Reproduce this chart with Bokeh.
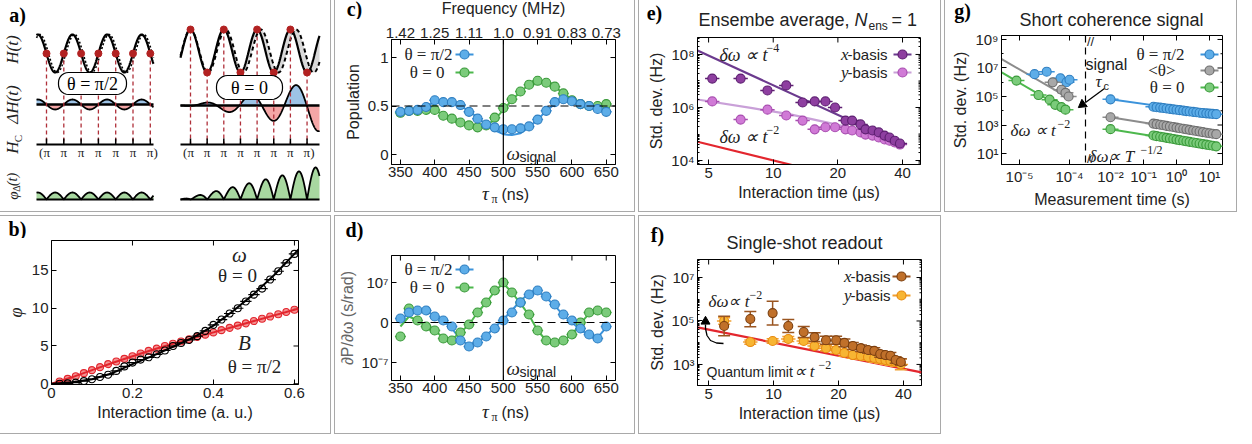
import numpy as np
from bokeh.plotting import figure
from bokeh.models import Range1d, LinearAxis, FixedTicker, Label, Span, BasicTickFormatter
from bokeh.layouts import row, column
from bokeh.embed import file_html
from bokeh.resources import INLINE

# ---------------- data: (b) accumulated phase ----------------
b_time = [0.02, 0.04, 0.06, 0.08, 0.10, 0.12, 0.14, 0.16, 0.18, 0.20, 0.22, 0.24, 0.26, 0.28, 0.30,
          0.32, 0.34, 0.36, 0.38, 0.40, 0.42, 0.44, 0.46, 0.48, 0.50, 0.52, 0.54, 0.56, 0.58, 0.60]
b_phase_omega = [0.0, 0.05, 0.15, 0.35, 0.6, 0.9, 1.2, 1.7, 2.3, 2.8, 3.2, 3.5, 3.9, 4.4, 5.0,
                 5.4, 5.8, 6.3, 7.0, 7.8, 8.5, 9.3, 10.0, 10.9, 11.8, 12.6, 13.8, 14.9, 16.0, 17.2]
b_phase_B = [0.3, 0.65, 1.0, 1.4, 1.8, 2.2, 2.6, 2.95, 3.3, 3.65, 4.0, 4.35, 4.65, 5.0, 5.3,
             5.6, 5.9, 6.2, 6.5, 6.8, 7.1, 7.4, 7.7, 8.0, 8.3, 8.6, 8.9, 9.2, 9.5, 9.8]
b_fit_time = [0.0, 0.05, 0.10, 0.15, 0.20, 0.25, 0.30, 0.35, 0.40, 0.45, 0.50, 0.55, 0.60, 0.61]
b_fit_omega = [0.0, 0.2, 0.6, 1.4, 2.6, 3.7, 4.9, 6.1, 7.7, 9.7, 11.9, 14.4, 17.2, 17.8]
b_fit_B = [0.0, 0.85, 1.8, 2.75, 3.65, 4.5, 5.3, 6.05, 6.8, 7.55, 8.3, 9.05, 9.8, 9.95]

# ---------------- data: (c) population ----------------
c_tau = [350, 362.5, 375, 387.5, 400, 412.5, 425, 437.5, 450, 462.5, 475, 487.5, 500,
         512.5, 525, 537.5, 550, 562.5, 575, 587.5, 600, 612.5, 625, 637.5, 650]
c_pop_pi2 = [0.44, 0.45, 0.46, 0.49, 0.56, 0.54, 0.54, 0.51, 0.44, 0.37, 0.31, 0.28, 0.26,
             0.26, 0.27, 0.29, 0.36, 0.45, 0.54, 0.57, 0.55, 0.52, 0.50, 0.47, 0.44]
c_pop_0 = [0.43, 0.45, 0.45, 0.46, 0.46, 0.40, 0.37, 0.33, 0.30, 0.28, 0.30, 0.38, 0.48,
           0.57, 0.65, 0.72, 0.76, 0.74, 0.70, 0.63, 0.56, 0.52, 0.50, 0.50, 0.52]
c_fit_pi2 = [0.45, 0.46, 0.48, 0.51, 0.53, 0.54, 0.53, 0.50, 0.45, 0.38, 0.31, 0.25, 0.21,
             0.20, 0.22, 0.28, 0.36, 0.45, 0.52, 0.56, 0.56, 0.53, 0.50, 0.47, 0.45]
c_fit_0 = [0.44, 0.45, 0.46, 0.46, 0.45, 0.42, 0.38, 0.34, 0.31, 0.29, 0.30, 0.36, 0.46,
           0.56, 0.65, 0.72, 0.75, 0.74, 0.70, 0.63, 0.57, 0.52, 0.50, 0.50, 0.51]
tau_ticks = [350, 400, 450, 500, 550, 600, 650]
freq_labels = ["1.42", "1.25", "1.11", "1.0", "0.91", "0.83", "0.73"]

# ---------------- data: (d) slope dP/dw ----------------
d_tau = [350, 362.5, 375, 387.5, 400, 412.5, 425, 437.5, 450, 462.5, 475, 487.5, 500,
         512.5, 525, 537.5, 550, 562.5, 575, 587.5, 600, 612.5, 625, 637.5, 650]
d_slope_pi2 = [0.1, 0.25, 0.3, 0.3, 0.15, 0.05, -0.1, -0.45, -0.6, -0.5, -0.35, -0.15, 0.05,
               0.25, 0.5, 0.7, 0.8, 0.65, 0.45, 0.2, 0.05, -0.15, -0.3, -0.4, -0.1]
d_slope_0 = [-0.35, 0.35, 0.05, -0.1, -0.2, -0.4, -0.45, -0.25, -0.05, 0.25, 0.5, 0.8, 1.0,
             0.75, 0.5, 0.2, -0.2, -0.45, -0.5, -0.45, -0.3, 0.0, 0.25, 0.3, 0.25]
d_fit_pi2 = [0.1, 0.2, 0.28, 0.28, 0.18, 0.05, -0.15, -0.42, -0.58, -0.5, -0.33, -0.12, 0.08,
             0.3, 0.55, 0.72, 0.78, 0.62, 0.42, 0.18, 0.0, -0.18, -0.32, -0.38, -0.12]
d_fit_0 = [-0.1, 0.15, 0.05, -0.1, -0.2, -0.38, -0.42, -0.25, -0.05, 0.25, 0.5, 0.78, 0.98,
           0.75, 0.48, 0.18, -0.2, -0.45, -0.5, -0.45, -0.3, -0.02, 0.22, 0.28, 0.25]

# ---------------- data: (e) ensemble average ----------------
e_time = [5.2, 7.05, 9.4, 11.5, 13.7, 15.6, 17.5, 19.4, 21.7, 23.3, 25.5, 26.9, 29.0, 31.0,
          33.0, 34.8, 36.8, 38.9]
e_std_x = [1.23e7, 1.23e7, 4.4e6, 6.8e6, 1.55e6, 1.7e6, 1.7e6, 1.0e6, 3.2e5, 3.2e5, 2.3e5,
           1.5e5, 1.35e5, 1.15e5, 8.7e4, 7.4e4, 5.6e4, 4.4e4]
e_std_y = [1.7e6, 3.5e5, 8.3e5, 5.0e5, 3.2e5, 1.5e5, 1.8e5, 1.8e5, 1.5e5, 1.35e5, 1.15e5,
           9.5e4, 8.7e4, 7.4e4, 6.2e4, 5.6e4, 4.8e4, 4.0e4]
e_fit_time_x = [4.44, 40.0]
e_fit_x = [1.4e8, 4.0e4]
e_fit_time_y = [4.44, 8.0, 12.0, 20.0, 30.0, 40.0]
e_fit_y = [2.0e6, 9.5e5, 5.5e5, 2.2e5, 9.0e4, 4.5e4]
ql_time = [4.44, 48.5]
ql_std = [5.1e4, 4.3e2]

# ---------------- data: (f) single-shot readout ----------------
f_time = [5.9, 7.8, 9.9, 11.7, 13.8, 15.5, 17.5, 19.5, 21.3, 23.3, 25.4, 27.4, 29.3, 31.2,
          33.0, 34.8, 36.8, 38.9]
f_std_x = [5.9e4, 1.23e5, 2.3e5, 5.9e4, 3.1e4, 1.8e4, 1.3e4, 1.3e4, 9.8e3, 7.1e3, 5.6e3,
           4.6e3, 4.2e3, 3.0e3, 2.7e3, 2.5e3, 1.6e3, 1.3e3]
f_err_x = [0.45, 0.35, 0.55, 0.3, 0.25, 0.2, 0.18, 0.18, 0.18, 0.16, 0.15, 0.15, 0.15, 0.15,
           0.15, 0.15, 0.15, 0.15]
f_std_y = [1.0e5, 1.07e4, 1.2e4, 1.48e4, 1.2e4, 7.1e3, 5.6e3, 4.6e3, 3.4e3, 2.7e3, 2.45e3,
           2.2e3, 2.0e3, 1.8e3, 1.6e3, 1.45e3, 1.3e3, 1.0e3]
f_err_y = [0.15, 0.1, 0.1, 0.12, 0.12, 0.12, 0.12, 0.15, 0.15, 0.15, 0.15, 0.15, 0.2, 0.2,
           0.2, 0.2, 0.2, 0.25]

# ---------------- data: (g) short coherence signal ----------------
g_lt_pi2 = [2.0e-5, 3.5e-5, 6.6e-5, 8.7e-5, 1.0e-4]
g_lv_pi2 = [3.7e6, 5.5e6, 1.9e6, 1.0e6, 1.5e6]
g_lt_avg = [4.6e-5, 6.9e-5, 8.3e-5, 9.6e-5]
g_lv_avg = [9.8e5, 3.0e5, 1.8e5, 1.0e5]
g_lt_0 = [8.7e-6, 2.4e-5, 4.0e-5, 5.2e-5, 6.9e-5, 8.3e-5]
g_lv_0 = [1.3e6, 1.26e5, 6.0e4, 2.6e4, 1.8e4, 1.2e4]
g_lfit_t = [4.4e-6, 1.0e-4]
g_lfit_avg = [4.2e7, 7.4e4]
g_lfit_0 = [4.9e6, 7.9e3]
g_T = [0.01, 0.2, 0.25, 0.32, 0.4, 0.5, 0.63, 0.8, 1.0, 1.25, 1.6, 2.0, 2.5, 3.2, 4.0,
       5.0, 6.3, 8.0, 10.0, 12.5, 16.0]
g_rv_pi2 = [6.3e4, 1.9e4, 1.78e4, 1.66e4, 1.55e4, 1.45e4, 1.35e4, 1.26e4, 1.17e4, 1.1e4,
            1.02e4, 9.5e3, 8.9e3, 8.3e3, 7.8e3, 7.2e3, 6.9e3, 6.6e3, 6.3e3, 6.0e3, 5.8e3]
g_rv_avg = [3.5e3, 1.26e3, 1.15e3, 1.05e3, 955, 870, 795, 725, 660, 600, 550, 500, 457,
            417, 380, 347, 316, 288, 263, 245, 229]
g_rv_0 = [513, 186, 166, 151, 138, 126, 115, 105, 95, 87, 79, 72, 66, 60, 55, 50, 46,
          42, 38, 35, 32]
g_rfit_T = [0.01, 16.0]
g_rfit_pi2 = [6.3e4, 5.8e3]
g_rfit_avg = [3.5e3, 229]
g_rfit_0 = [513, 32]
g_tick_labels = ["10\u207b\u2075", "10\u207b\u2074", "10\u207b\u00b2", "10\u207b\u00b9",
                 "10\u2070", "10\u00b9"]
g_tick_times = [1e-5, 1e-4, 1e-2, 1e-1, 1e0, 1e1]

# ---------------- styling ----------------
SANS = "Liberation Sans"
SERIF = "Liberation Serif"
INK = "#222222"
OUTLINE = {"outline": "1px solid #a9a9a9", "outline-offset": "0px"}
BLUE_F, BLUE_E, BLUE_L = "#5DADE8", "#2F7FC1", "#3B93DB"
GREEN_F, GREEN_E, GREEN_L = "#7BCB7B", "#3A9A3A", "#4DB84D"
GRAY_F, GRAY_E, GRAY_L = "#A8A8A8", "#6E6E6E", "#8C8C8C"
PUR_F, PUR_E, PUR_L = "#8E3FA0", "#5E1F72", "#6B3A8E"
LPUR_F, LPUR_E, LPUR_L = "#D07AD6", "#A84DB0", "#C9A0D8"
BR_F, BR_E, BR_L = "#C0702A", "#7A3F10", "#9A5520"
OR_F, OR_E, OR_L = "#F7B533", "#E88A10", "#F0A030"
RED = "#E3262E"


def style_axis(ax, ticks, labels=None, minor=(), lsize="15px"):
    ax.ticker = FixedTicker(ticks=list(ticks), minor_ticks=list(minor))
    ax.axis_line_color = "black"
    ax.major_tick_in = 5
    ax.major_tick_out = 0
    ax.minor_tick_in = 2
    ax.minor_tick_out = 0
    ax.major_tick_line_color = "black"
    ax.minor_tick_line_color = "black"
    ax.major_label_text_font = SANS
    ax.major_label_text_font_size = lsize
    ax.major_label_text_color = INK
    ax.major_label_standoff = 3
    ax.axis_label_text_font = SANS
    ax.axis_label_text_font_size = "16px"
    ax.axis_label_text_font_style = "normal"
    ax.axis_label_text_color = INK
    ax.axis_label_standoff = 3
    if labels is not None:
        ax.major_label_overrides = {t: l for t, l in zip(ticks, labels)}


def txt(p, x, y, s, size=15, font=SANS, style="normal", align="left", base="middle",
        color=INK, angle=0.0):
    p.add_layout(Label(x=x, y=y, text=s, text_font=font, text_font_size=f"{size}px",
                       text_font_style=style, text_align=align, text_baseline=base,
                       text_color=color, angle=angle))


class Sheet:
    """Axis-free figure whose data coordinates are page pixels (schematic / header / footer text)."""

    def __init__(self, x0, y0, x1, y1):
        w, h = x1 - x0, y1 - y0
        p = figure(width=w, height=h, frame_width=w, frame_height=h,
                   x_range=Range1d(x0, x1), y_range=Range1d(y1, y0),
                   x_axis_location=None, y_axis_location=None,
                   output_backend="svg", toolbar_location=None,
                   min_border=0, min_border_left=0, min_border_right=0,
                   min_border_top=0, min_border_bottom=0,
                   background_fill_color="white", border_fill_color="white")
        p.title.visible = False
        p.grid.visible = False
        p.outline_line_color = None
        self.p = p

    def text(self, X, Y, s, **kw):
        txt(self.p, X, Y, s, **kw)

    def letter(self, X, Y, s):
        txt(self.p, X, Y, s, size=20, font=SERIF, style="bold", align="center", color="black")


class Panel:
    def __init__(self, box, frame, xr, yr, xlog=False, ylog=False):
        bx0, by0, bx1, by1 = box
        w, h = bx1 - bx0, by1 - by0
        cx, cy = bx0, by0
        self.frame, self.xr, self.yr, self.xlog, self.ylog = frame, xr, yr, xlog, ylog
        fl, ft, fr, fb = frame
        p = figure(width=w, height=h, x_range=Range1d(*xr), y_range=Range1d(*yr),
                   output_backend="svg", toolbar_location=None,
                   x_axis_type="log" if xlog else "linear",
                   y_axis_type="log" if ylog else "linear",
                   min_border_left=fl - cx, min_border_top=ft - cy,
                   min_border_right=cx + w - fr, min_border_bottom=cy + h - fb,
                   background_fill_color="white", border_fill_color="white")
        p.title.visible = False
        p.grid.visible = False
        p.outline_line_color = "black"
        p.outline_line_width = 1
        self.p = p

    def d(self, X, Y):
        fl, ft, fr, fb = self.frame
        fx = (X - fl) / (fr - fl)
        fy = (fb - Y) / (fb - ft)
        x0, x1 = self.xr
        y0, y1 = self.yr
        if self.xlog:
            x = 10 ** (np.log10(x0) + fx * (np.log10(x1) - np.log10(x0)))
        else:
            x = x0 + fx * (x1 - x0)
        if self.ylog:
            y = 10 ** (np.log10(y0) + fy * (np.log10(y1) - np.log10(y0)))
        else:
            y = y0 + fy * (y1 - y0)
        return float(x), float(y)

    def text(self, X, Y, s, **kw):
        x, y = self.d(X, Y)
        txt(self.p, x, y, s, **kw)

    def axes(self, xt, yt, xl=None, yl=None, xminor=(), yminor=(), top=True, right=True):
        p = self.p
        self.xax = p.below[0]
        self.yax = p.left[0]
        style_axis(self.xax, xt, xl, xminor)
        style_axis(self.yax, yt, yl, yminor)
        if self.ylog:
            self.yax.formatter = BasicTickFormatter()
        if self.xlog:
            self.xax.formatter = BasicTickFormatter()
        fl, ft, fr, fb = self.frame
        if top:
            _, y0 = self.d(fl, ft)
            _, y1 = self.d(fl, ft + 5)
            n = len(xt)
            p.segment(x0=list(xt), y0=[y0] * n, x1=list(xt), y1=[y1] * n, line_color="black", line_width=1)
        if right:
            x0, _ = self.d(fr, ft)
            x1, _ = self.d(fr - 5, ft)
            x2, _ = self.d(fr - 2, ft)
            n = len(yt)
            p.segment(x0=[x0] * n, y0=list(yt), x1=[x1] * n, y1=list(yt), line_color="black", line_width=1)
            m = len(yminor)
            if m:
                p.segment(x0=[x0] * m, y0=list(yminor), x1=[x2] * m, y1=list(yminor),
                          line_color="black", line_width=1)

    def legend_mark(self, X, Y, fill, edge, line, half=9, size=9):
        x0, y = self.d(X - half, Y)
        x1, _ = self.d(X + half, Y)
        xc, _ = self.d(X, Y)
        self.p.segment(x0=[x0], y0=[y], x1=[x1], y1=[y], line_color=line, line_width=2)
        self.p.scatter([xc], [y], size=size, fill_color=fill, line_color=edge, line_width=1.2)

    def polyline(self, pts, **kw):
        xs, ys = zip(*[self.d(X, Y) for X, Y in pts])
        self.p.line(list(xs), list(ys), **kw)

    def head(self, X, Y, angle):
        x, y = self.d(X, Y)
        self.p.scatter([x], [y], marker="triangle", size=9, angle=angle,
                       fill_color="black", line_color="black")


def stack(*figs):
    # each figure in its own row so that Bokeh does not align frames between them
    return column(*[row(f) for f in figs], spacing=0, styles=OUTLINE)


def hbars(p, xs, ys, half, color, log=False, width=1.5):
    xs = np.asarray(xs, float)
    ys = np.asarray(ys, float)
    x0, x1 = (xs / half, xs * half) if log else (xs - half, xs + half)
    p.segment(x0=x0, y0=ys, x1=x1, y1=ys, line_color=color, line_width=width)


def vbars(p, xs, ys, dex, color, cap=1.066, width=1.5):
    xs = np.asarray(xs, float)
    ys = np.asarray(ys, float)
    e = 10 ** np.asarray(dex, float)
    lo, hi = ys / e, ys * e
    p.segment(x0=xs, y0=lo, x1=xs, y1=hi, line_color=color, line_width=width)
    p.segment(x0=xs / cap, y0=lo, x1=xs * cap, y1=lo, line_color=color, line_width=width)
    p.segment(x0=xs / cap, y0=hi, x1=xs * cap, y1=hi, line_color=color, line_width=width)


def dots(p, xs, ys, fill, edge, size=9, alpha=1.0):
    p.scatter(xs, ys, size=size, fill_color=fill, line_color=edge, line_width=1.1, fill_alpha=alpha)


# ======================= (a) schematic =======================
A = Sheet(3, 3, 338, 219)
pa = A.p
TAU = 2 * np.pi
xl = np.linspace(44, 161, 500)
lp = 54.0 + 17.3 * np.arange(7)
yH = 61 - 19 * np.sin(TAU * (xl - 71.3) / 34.6)
yH2 = 61 - 19 * np.sin(TAU * (xl - 73.3) / 34.6)
pa.line(xl, yH2, line_color="black", line_width=1.6, line_dash="2 2")
pa.line(xl, yH, line_color="black", line_width=2.2)
yd = 112 + 5 * np.sin(TAU * (xl - 54) / 34.6)
pa.varea(x=xl, y1=np.full_like(xl, 112), y2=np.minimum(yd, 112), fill_color="#9DC3E6")
pa.varea(x=xl, y1=np.full_like(xl, 112), y2=np.maximum(yd, 112), fill_color="#F4A6A6")
pa.line(xl, yd, line_color="black", line_width=1.8)
pa.line([44, 161], [112, 112], line_color="black", line_width=2.6)
yphi = 207 - 7 * np.abs(np.sin(np.pi * (xl - 54) / 17.3))
pa.varea(x=xl, y1=np.full_like(xl, 207), y2=yphi, fill_color="#A8D8A0")
pa.line(xl, yphi, line_color="black", line_width=1.8)
pa.line([44, 161], [207, 207], line_color="black", line_width=2.2)
pa.segment(x0=lp, y0=np.full(7, 61.0), x1=lp, y1=np.full(7, 152.0), line_color="#B0303A",
           line_width=1.3, line_dash="4 3")
pa.scatter(lp, np.full(7, 61.0), size=7, fill_color="#B22222", line_color="#B22222")
pa.line([44, 161], [152, 152], line_color="black", line_width=2)
pa.segment(x0=lp, y0=np.full(7, 146.0), x1=lp, y1=np.full(7, 152.0), line_color="black", line_width=1.5)
for i, xx in enumerate(lp):
    s = "(\u03c0" if i == 0 else ("\u03c0)" if i == len(lp) - 1 else "\u03c0")
    A.text(xx - (2 if i == 0 else 0) + (2 if i == len(lp) - 1 else 0), 160, s, size=13, font=SERIF, align="center")

xr_ = np.linspace(188, 327, 500)
rp = 198.0 + 16.65 * np.arange(8)
yS = 58.5 - 21.5 * np.cos(TAU * (xr_ - 198) / 33.3)
yD = 58.5 - 21.5 * np.cos(TAU * (xr_ - 198) / 35.2)
pa.varea(x=xr_, y1=yS, y2=yD, fill_color="#D9D9D9")
pa.line(xr_, yD, line_color="black", line_width=2.0, line_dash="4 3")
pa.line(xr_, yS, line_color="black", line_width=2.2)
amp = 26 * ((xr_ - 188) / 139) ** 1.3
yd2 = 113 - amp * np.cos(TAU * (xr_ - 303) / 45)
pa.varea(x=xr_, y1=np.full_like(xr_, 113), y2=np.minimum(yd2, 113), fill_color="#9DC3E6")
pa.varea(x=xr_, y1=np.full_like(xr_, 113), y2=np.maximum(yd2, 113), fill_color="#F4A6A6")
pa.line(xr_, yd2, line_color="black", line_width=1.8)
pa.line([188, 327], [113, 113], line_color="black", line_width=2.6)
hm = 33 * (xr_ - 188) / 139
yphi2 = 207 - hm * np.abs(np.sin(np.pi * (xr_ - 198) / 16.65))
pa.varea(x=xr_, y1=np.full_like(xr_, 207), y2=yphi2, fill_color="#A8D8A0")
pa.line(xr_, yphi2, line_color="black", line_width=1.8)
pa.line([188, 327], [207, 207], line_color="black", line_width=2.2)
ry = 58.5 - 21.5 * np.cos(TAU * (rp - 198) / 33.3)
pa.segment(x0=rp, y0=ry, x1=rp, y1=np.full(8, 152.0), line_color="#B0303A", line_width=1.3,
           line_dash="4 3")
pa.scatter(rp, ry, size=7, fill_color="#B22222", line_color="#B22222")
pa.line([188, 327], [152, 152], line_color="black", line_width=2)
pa.segment(x0=rp, y0=np.full(8, 146.0), x1=rp, y1=np.full(8, 152.0), line_color="black", line_width=1.5)
for i, xx in enumerate(rp):
    s = "(\u03c0" if i == 0 else ("\u03c0)" if i == len(rp) - 1 else "\u03c0")
    A.text(xx - (2 if i == 0 else 0) + (2 if i == len(rp) - 1 else 0), 160, s, size=13, font=SERIF, align="center")


def rounded_box(p, cx, cy, w, h, r):
    t = np.linspace(0, np.pi / 2, 8)
    xs, ys = [], []
    for (ox, oy, a0) in [(cx + w / 2 - r, cy - h / 2 + r, -np.pi / 2), (cx + w / 2 - r, cy + h / 2 - r, 0.0),
                         (cx - w / 2 + r, cy + h / 2 - r, np.pi / 2), (cx - w / 2 + r, cy - h / 2 + r, np.pi)]:
        xs += list(ox + r * np.cos(a0 + t))
        ys += list(oy + r * np.sin(a0 + t))
    p.patch(xs, ys, fill_color="white", line_color="black", line_width=1.2)


rounded_box(pa, 100, 91, 68, 22, 10)
rounded_box(pa, 257, 95, 66, 24, 11)
A.text(100, 91, "\u03b8 = \u03c0/2", size=18, font=SERIF, align="center", color="black")
A.text(257, 95, "\u03b8 = 0", size=18, font=SERIF, align="center", color="black")
A.letter(25, 22, "a)")
R90 = np.pi / 2
A.text(20, 57, "H(t)", size=17, font=SERIF, style="italic", align="center", angle=R90)
A.text(20, 112, "\u0394H(t)", size=17, font=SERIF, style="italic", align="center", angle=R90)
A.text(20, 155, "H", size=17, font=SERIF, style="italic", align="center", angle=R90)
A.text(25, 146, "C", size=11, font=SERIF, align="center", angle=R90)
A.text(20, 203, "\u03c6", size=15, font=SERIF, style="italic", align="center", angle=R90)
A.text(24, 196, "\u0394", size=10, font=SERIF, align="center", angle=R90)
A.text(20, 187, "(t)", size=14, font=SERIF, style="italic", align="center", angle=R90)
panel_a = stack(A.p)

# ======================= (b) phase =======================
Bh = Sheet(3, 224, 338, 246)
Bh.letter(25, 236, "b)")
B = Panel((3, 246, 338, 441), frame=(59, 248, 306, 392), xr=(0, 0.61), yr=(-0.1, 18.97))
pb = B.p
B.axes([0, 0.2, 0.4, 0.6], [0, 5, 10, 15], xl=["0", "0.2", "0.4", "0.6"], yl=["0", "5", "10", "15"])
B.xax.axis_label = "Interaction time (a. u.)"
B.yax.axis_label = "\u03c6"
B.yax.axis_label_text_font = SERIF
B.yax.axis_label_text_font_style = "italic"
B.yax.axis_label_text_font_size = "18px"
dots(pb, b_time, b_phase_B, "#F28080", RED, size=7, alpha=0.85)
pb.line(b_fit_time, b_fit_B, line_color=RED, line_width=2)
hbars(pb, b_time, b_phase_omega, 0.014, "black", width=1.2)
pb.scatter(b_time, b_phase_omega, size=7, fill_color=None, line_color="black", line_width=1.1)
pb.line(b_fit_time, b_fit_omega, line_color="black", line_width=2)
B.text(247, 262, "\u03c9", size=21, font=SERIF, style="italic", align="center")
B.text(245, 283, "\u03b8 = 0", size=19, font=SERIF, align="center")
B.text(252, 350, "B", size=21, font=SERIF, style="italic", align="center")
B.text(262, 374, "\u03b8 = \u03c0/2", size=19, font=SERIF, align="center")
panel_b = stack(Bh.p, B.p)

# ======================= (c) population =======================
Ch = Sheet(343, 3, 642, 27)
Ch.letter(362, 16, "c)")
Ch.text(511, 16, "Frequency (MHz)", size=16, align="center")
C = Panel((343, 27, 642, 191), frame=(399, 47, 623, 172), xr=(337, 663.5), yr=(-0.103, 1.186))
pc = C.p
C.axes(tau_ticks, [0, 0.5, 1], yl=["0", "0.5", "1"], top=False)
C.xax.major_label_standoff = 2
C.yax.axis_label = "Population"
topax = LinearAxis()
style_axis(topax, tau_ticks, freq_labels)
topax.major_label_standoff = 2
pc.add_layout(topax, "above")
pc.add_layout(Span(location=0.5, dimension="width", line_color="black", line_dash="8 5", line_width=1.2))
pc.add_layout(Span(location=500, dimension="height", line_color="black", line_width=1.2))
pc.line(c_tau, c_fit_pi2, line_color=BLUE_L, line_width=2)
pc.line(c_tau, c_fit_0, line_color=GREEN_L, line_width=2)
hbars(pc, c_tau, c_pop_0, 8, GREEN_L)
dots(pc, c_tau, c_pop_0, GREEN_F, GREEN_E)
hbars(pc, c_tau, c_pop_pi2, 8, BLUE_L)
dots(pc, c_tau, c_pop_pi2, BLUE_F, BLUE_E)
C.text(460, 62, "\u03b8 = \u03c0/2", size=17, font=SERIF, align="right")
C.text(452, 80, "\u03b8 = 0", size=17, font=SERIF, align="right")
C.legend_mark(472, 62, BLUE_F, BLUE_E, BLUE_L)
C.legend_mark(472, 80, GREEN_F, GREEN_E, GREEN_L)
C.text(514, 161, "\u03c9", size=19, font=SERIF, style="italic")
C.text(527, 164, "signal", size=14)
Cf = Sheet(343, 191, 642, 219)
Cf.text(493, 201, "\u03c4", size=19, font=SERIF, style="italic", align="center")
Cf.text(502, 206, "\u03c0", size=12, font=SERIF, align="center")
Cf.text(509, 202, "(ns)", size=16)
panel_c = stack(Ch.p, C.p, Cf.p)

# ======================= (d) slope =======================
Dh = Sheet(343, 224, 642, 250)
Dh.letter(362, 237, "d)")
D = Panel((343, 250, 642, 408), frame=(399, 263, 623, 388), xr=(337, 663.5), yr=(-1.45, 1.675))
pdd = D.p
D.axes(tau_ticks, [-1, 0, 1], yl=["10\u207b\u2077", "0", "10\u2077"])
D.xax.major_label_standoff = 2
D.yax.axis_label = "\u2202P/\u2202\u03c9 (s/rad)"
D.yax.axis_label_text_color = "#666666"
D.yax.axis_label_standoff = 2
pdd.add_layout(Span(location=0, dimension="width", line_color="black", line_dash="8 5", line_width=1.2))
pdd.add_layout(Span(location=500, dimension="height", line_color="black", line_width=1.2))
pdd.line(d_tau, d_fit_pi2, line_color=BLUE_L, line_width=2)
pdd.line(d_tau, d_fit_0, line_color=GREEN_L, line_width=2)
hbars(pdd, d_tau, d_slope_0, 8, GREEN_L)
dots(pdd, d_tau, d_slope_0, GREEN_F, GREEN_E)
hbars(pdd, d_tau, d_slope_pi2, 8, BLUE_L)
dots(pdd, d_tau, d_slope_pi2, BLUE_F, BLUE_E)
D.text(460, 277, "\u03b8 = \u03c0/2", size=17, font=SERIF, align="right")
D.text(452, 295, "\u03b8 = 0", size=17, font=SERIF, align="right")
D.legend_mark(472, 277, BLUE_F, BLUE_E, BLUE_L)
D.legend_mark(472, 295, GREEN_F, GREEN_E, GREEN_L)
D.text(514, 376, "\u03c9", size=19, font=SERIF, style="italic")
D.text(527, 379, "signal", size=14)
Df = Sheet(343, 408, 642, 441)
Df.text(493, 419, "\u03c4", size=19, font=SERIF, style="italic", align="center")
Df.text(502, 424, "\u03c0", size=12, font=SERIF, align="center")
Df.text(509, 420, "(ns)", size=16)
panel_d = stack(Dh.p, D.p, Df.p)

# ======================= (e) ensemble average =======================
LOGMIN = [m * 10 ** k for k in range(1, 10) for m in range(2, 10)]
Eh = Sheet(647, 3, 948, 40)
Eh.letter(662, 20, "e)")
Eh.text(706, 27, "Ensembe average, ", size=18)
Eh.text(862, 27, "N", size=18, style="italic")
Eh.text(876, 33, "ens", size=12)
Eh.text(899, 27, "= 1", size=18)
E = Panel((647, 40, 948, 219), frame=(705, 45, 928, 172), xr=(4.44, 48.5), yr=(10 ** 3.85, 10 ** 8.64),
          xlog=True, ylog=True)
pe = E.p
E.axes([5, 10, 20, 40], [1e4, 1e6, 1e8], xl=["5", "10", "20", "40"],
       yl=["10\u2074", "10\u2076", "10\u2078"], yminor=LOGMIN + [1e5, 1e7])
E.xax.axis_label = "Interaction time (\u00b5s)"
E.yax.axis_label = "Std. dev. (Hz)"
pe.line(ql_time, ql_std, line_color=RED, line_width=2.2)
pe.line(e_fit_time_y, e_fit_y, line_color=LPUR_L, line_width=2.2)
pe.line(e_fit_time_x, e_fit_x, line_color=PUR_L, line_width=2.2)
hbars(pe, e_time, e_std_y, 1.08, LPUR_E, log=True)
dots(pe, e_time, e_std_y, LPUR_F, LPUR_E)
hbars(pe, e_time, e_std_x, 1.08, PUR_E, log=True)
dots(pe, e_time, e_std_x, PUR_F, PUR_E)
E.text(895, 62, "-basis", size=15, align="right")
E.text(856, 62, "x", size=17, font=SERIF, style="italic", align="right")
E.text(895, 80, "-basis", size=15, align="right")
E.text(856, 80, "y", size=17, font=SERIF, style="italic", align="right")
E.legend_mark(910, 62, PUR_F, PUR_E, PUR_L)
E.legend_mark(910, 80, LPUR_F, LPUR_E, LPUR_L)
E.text(727, 62, "\u03b4\u03c9 \u221d t", size=18, font=SERIF, style="italic")
E.text(774, 55, "\u22124", size=12, font=SERIF)
E.text(727, 144, "\u03b4\u03c9 \u221d t", size=18, font=SERIF, style="italic")
E.text(774, 137, "\u22122", size=12, font=SERIF)
panel_e = stack(Eh.p, E.p)

# ======================= (f) single-shot =======================
Fh = Sheet(647, 224, 948, 261)
Fh.letter(665, 242, "f)")
Fh.text(812, 250, "Single-shot readout", size=18, align="center")
F = Panel((647, 261, 948, 441), frame=(705, 267, 929, 393), xr=(4.44, 48.5), yr=(10 ** 2.03, 10 ** 7.83),
          xlog=True, ylog=True)
pf = F.p
F.axes([5, 10, 20, 40], [1e3, 1e5, 1e7], xl=["5", "10", "20", "40"],
       yl=["10\u00b3", "10\u2075", "10\u2077"], yminor=LOGMIN + [1e4, 1e6])
F.xax.axis_label = "Interaction time (\u00b5s)"
F.yax.axis_label = "Std. dev. (Hz)"
pf.line(ql_time, ql_std, line_color=RED, line_width=2.2)
vbars(pf, f_time, f_std_y, f_err_y, OR_L)
hbars(pf, f_time, f_std_y, 1.08, OR_L, log=True)
dots(pf, f_time, f_std_y, OR_F, OR_E)
vbars(pf, f_time, f_std_x, f_err_x, BR_L)
dots(pf, f_time, f_std_x, BR_F, BR_E)
F.text(898, 284, "-basis", size=15, align="right")
F.text(859, 284, "x", size=17, font=SERIF, style="italic", align="right")
F.text(898, 303, "-basis", size=15, align="right")
F.text(859, 303, "y", size=17, font=SERIF, style="italic", align="right")
F.legend_mark(909, 284, BR_F, BR_E, BR_L)
F.legend_mark(909, 303, OR_F, OR_E, OR_L)
F.text(716, 309, "\u03b4\u03c9\u221d t", size=17, font=SERIF, style="italic")
F.text(757, 302, "\u22122", size=12, font=SERIF)
F.text(714, 379, "Quantum limit", size=14)
F.text(801, 379, "\u221d t", size=17, font=SERIF, style="italic")
F.text(826, 372, "\u22122", size=12, font=SERIF)
F.polyline([(731, 351), (724, 350.5), (718, 348), (714.5, 343), (713, 336), (713, 332)],
           line_color="black", line_width=1.3)
F.head(713, 329, 0.0)
panel_f = stack(Fh.p, F.p)


# ======================= (g) short coherence =======================
def g_u(t):
    lt = np.log10(np.asarray(t, float))
    return np.where(lt < -3, lt + 5, 1.82 + 0.66 * (lt + 2))


Gh = Sheet(953, 3, 1244, 38)
Gh.letter(970, 18, "g)")
Gh.text(1119, 27, "Short coherence signal", size=18, align="center")
G = Panel((953, 38, 1244, 219), frame=(1009, 43, 1230, 172), xr=(-0.36, 4.06), yr=(1.7, 1.9e9), ylog=True)
pg = G.p
g_ticks = [float(v) for v in g_u(g_tick_times)]
G.axes(g_ticks, [1e1, 1e3, 1e5, 1e7, 1e9], xl=g_tick_labels,
       yl=["10\u00b9", "10\u00b3", "10\u2075", "10\u2077", "10\u2079"],
       yminor=[1e2, 1e4, 1e6, 1e8])
G.xax.axis_label = "Measurement time (s)"
G.yax.axis_label = "Std. dev. (Hz)"
u_break = 1.32
pg.add_layout(Span(location=u_break, dimension="height", line_color="black", line_dash="7 5", line_width=1.2))
pg.line(g_u(g_lfit_t), g_lfit_avg, line_color=GRAY_L, line_width=2)
pg.line(g_u(g_lfit_t), g_lfit_0, line_color=GREEN_L, line_width=2)
pg.line(g_u(g_rfit_T), g_rfit_pi2, line_color=BLUE_L, line_width=2)
pg.line(g_u(g_rfit_T), g_rfit_avg, line_color=GRAY_L, line_width=2)
pg.line(g_u(g_rfit_T), g_rfit_0, line_color=GREEN_L, line_width=2)
for (tt, vv, fc, ec, lc) in [(g_lt_pi2, g_lv_pi2, BLUE_F, BLUE_E, BLUE_L),
                             (g_lt_avg, g_lv_avg, GRAY_F, GRAY_E, GRAY_L),
                             (g_lt_0, g_lv_0, GREEN_F, GREEN_E, GREEN_L),
                             (g_T, g_rv_pi2, BLUE_F, BLUE_E, BLUE_L),
                             (g_T, g_rv_avg, GRAY_F, GRAY_E, GRAY_L),
                             (g_T, g_rv_0, GREEN_F, GREEN_E, GREEN_L)]:
    hbars(pg, g_u(tt), vv, 0.16, lc)
    dots(pg, g_u(tt), vv, fc, ec)
G.text(1192, 62, "\u03b8 = \u03c0/2", size=17, font=SERIF, align="right")
G.text(1183, 78, "<\u03b8>", size=17, font=SERIF, align="right")
G.text(1192, 95, "\u03b8 = 0", size=17, font=SERIF, align="right")
G.legend_mark(1217, 62, BLUE_F, BLUE_E, BLUE_L)
G.legend_mark(1217, 78, GRAY_F, GRAY_E, GRAY_L)
G.legend_mark(1217, 95, GREEN_F, GREEN_E, GREEN_L)
G.text(1093, 72, "signal", size=16)
G.text(1103, 89, "\u03c4", size=17, font=SERIF, style="italic")
G.text(1111, 93, "c", size=11)
G.polyline([(1112, 96), (1093, 110)], line_color="black", line_width=1.3)
G.head(1090, 112, 2.21)
G.text(1018, 138, "\u03b4\u03c9 \u221d t", size=17, font=SERIF, style="italic")
G.text(1065, 131, "\u22122", size=12, font=SERIF)
G.text(1096, 164, "\u03b4\u03c9\u221d T", size=17, font=SERIF, style="italic")
G.text(1148, 157, "\u22121/2", size=12, font=SERIF)
G.text(1098, 49, "//", size=13, align="center")
G.text(1098, 166, "//", size=13, align="center")
panel_g = stack(Gh.p, G.p)

layout = row(column(panel_a, panel_b, spacing=5), column(panel_c, panel_d, spacing=5),
             column(panel_e, panel_f, spacing=5), column(panel_g), spacing=5,
             styles={"margin-left": "-5px", "margin-top": "-5px"})

open("out.html", "w").write(file_html(layout, INLINE))
